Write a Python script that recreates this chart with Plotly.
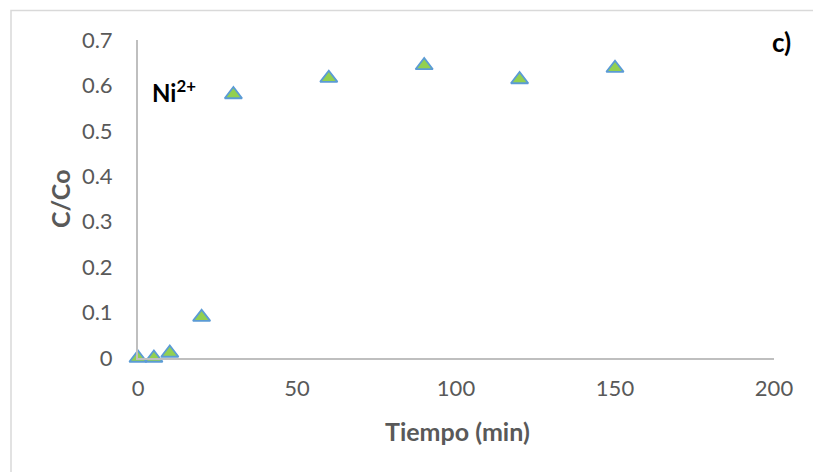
import plotly.graph_objects as go

tiempo = [0, 5, 10, 20, 30, 60, 90, 120, 150]
c_co = [0.0, 0.0, 0.011, 0.09, 0.58, 0.616, 0.644, 0.613, 0.638]
x_ticks = [0, 50, 100, 150, 200]
y_ticks = [0, 0.1, 0.2, 0.3, 0.4, 0.5, 0.6, 0.7]
y_tick_text = ["0", "0.1", "0.2", "0.3", "0.4", "0.5", "0.6", "0.7"]
x_title = "Tiempo (min)"
y_title = "C/Co"

FONT = "Lato"
GRAY = "#595959"

fig = go.Figure()
fig.add_trace(go.Scatter(
    x=tiempo, y=c_co, mode="markers",
    marker=dict(symbol="triangle-up", size=15, color="#92D050",
                line=dict(color="#5B9BD5", width=1.8)),
    showlegend=False, cliponaxis=False,
))

fig.update_layout(
    width=813, height=472,
    margin=dict(l=138, r=39, t=40, b=114),
    paper_bgcolor="white", plot_bgcolor="white",
    font=dict(family=FONT, color=GRAY, size=22),
    xaxis=dict(range=[0, 200], tickvals=x_ticks, showgrid=False, zeroline=False,
               showline=True, linecolor="#BFBFBF", linewidth=2, ticks="",
               ticklabelstandoff=10, tickfont=dict(size=22, color=GRAY)),
    yaxis=dict(range=[0, 0.7], tickvals=y_ticks, ticktext=y_tick_text, showgrid=False,
               zeroline=False, showline=True, linecolor="#BFBFBF", linewidth=2, ticks="",
               ticklabelstandoff=19, tickfont=dict(size=22, color=GRAY)),
    shapes=[dict(type="rect", xref="paper", yref="paper",
                 x0=(11 - 138) / 636, x1=1.2, y0=-0.5, y1=(358 - 10.5) / 318,
                 line=dict(color="#D9D9D9", width=1.5), layer="below")],
    annotations=[
        dict(text="<b>" + x_title + "</b>", xref="paper", yref="paper",
             x=(457 - 138) / 636, y=(358 - 431) / 318, xanchor="center", yanchor="middle",
             showarrow=False, font=dict(family=FONT, size=25, color=GRAY)),
        dict(text="<b>" + y_title + "</b>", xref="paper", yref="paper", textangle=-90,
             x=(60 - 138) / 636, y=(358 - 199) / 318, xanchor="center", yanchor="middle",
             showarrow=False, font=dict(family=FONT, size=25, color=GRAY)),
        dict(text="<b>Ni<sup>2+</sup></b>", xref="paper", yref="paper",
             x=(150 - 138) / 636, y=(358 - 91) / 318, xanchor="left", yanchor="middle",
             showarrow=False, font=dict(family=FONT, size=24, color="black")),
        dict(text="<b>c)</b>", xref="paper", yref="paper",
             x=(793 - 138) / 636, y=(358 - 42) / 318, xanchor="right", yanchor="middle",
             showarrow=False, font=dict(family=FONT, size=26, color="black")),
    ],
)

fig.write_html("out.html")
